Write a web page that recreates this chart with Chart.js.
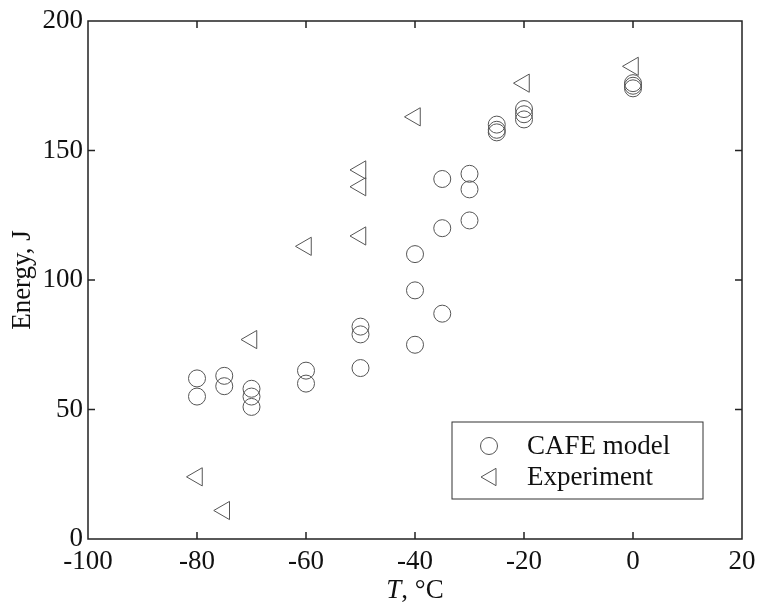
<!DOCTYPE html>
<html>
<head>
<meta charset="utf-8">
<script src="https://cdn.jsdelivr.net/npm/chart.js@4"></script>
<style>
  html, body { margin: 0; padding: 0; background: #fff; }
  #wrap { width: 759px; height: 614px; }
</style>
</head>
<body>
<div id="wrap"><canvas id="chart"></canvas></div>
<script>
// CAFE model (circles)
const cafeT = [-80, -80, -75, -75, -70, -70, -70, -60, -60, -50, -50, -50,
  -40, -40, -40, -35, -35, -35, -30, -30, -30, -25, -25, -25, -20, -20, -20, 0, 0, 0];
const cafeE = [62, 55, 63, 59, 58, 55, 51, 65, 60, 82, 79, 66,
  110, 96, 75, 139, 120, 87, 141, 135, 123, 160, 158, 157, 166, 164, 162, 176, 175, 174];

// Experiment (left triangles)
const expT = [-80, -75, -70, -60, -50, -50, -50, -40, -20, 0];
const expE = [24, 11, 77, 113, 142.5, 136, 117, 163, 176, 182.5];

const xMin = -100, xMax = 20, xStep = 20;
const yMin = 0, yMax = 200, yStep = 50;

const serif = "'Liberation Serif', 'DejaVu Serif', serif";
const markColor = "#555";
const fontSize = 27;

const toPts = (xs, ys) => xs.map((x, i) => ({ x: x, y: ys[i] }));

// frame + inward ticks on all four sides
const framePlugin = {
  id: "frame",
  afterDraw(chart) {
    const { ctx, chartArea: a, scales } = chart;
    const tl = 7;
    ctx.save();
    ctx.strokeStyle = "#222";
    ctx.lineWidth = 1.5;
    ctx.strokeRect(a.left, a.top, a.right - a.left, a.bottom - a.top);
    ctx.beginPath();
    scales.x.ticks.forEach(t => {
      const px = scales.x.getPixelForValue(t.value);
      if (px <= a.left + 1 || px >= a.right - 1) return;
      ctx.moveTo(px, a.bottom); ctx.lineTo(px, a.bottom - tl);
      ctx.moveTo(px, a.top); ctx.lineTo(px, a.top + tl);
    });
    scales.y.ticks.forEach(t => {
      const py = scales.y.getPixelForValue(t.value);
      if (py <= a.top + 1 || py >= a.bottom - 1) return;
      ctx.moveTo(a.left, py); ctx.lineTo(a.left + tl, py);
      ctx.moveTo(a.right, py); ctx.lineTo(a.right - tl, py);
    });
    ctx.stroke();
    ctx.restore();
  }
};

// legend box inside the plot, bottom right
const legendPlugin = {
  id: "boxLegend",
  afterDraw(chart) {
    const { ctx, chartArea: a } = chart;
    const w = 251, h = 77;
    const x0 = a.right - 39 - w, y0 = a.bottom - 40 - h;
    ctx.save();
    ctx.fillStyle = "#fff";
    ctx.fillRect(x0, y0, w, h);
    ctx.strokeStyle = "#333";
    ctx.lineWidth = 1;
    ctx.strokeRect(x0, y0, w, h);

    const sx = x0 + 37;
    const rows = [y0 + 24, y0 + 55];
    ctx.strokeStyle = markColor;
    // circle
    ctx.beginPath();
    ctx.arc(sx, rows[0], 8.5, 0, Math.PI * 2);
    ctx.stroke();
    // left triangle
    const r = 10;
    ctx.beginPath();
    ctx.moveTo(sx - r + 2, rows[1]);
    ctx.lineTo(sx + r / 2 + 2, rows[1] - r * Math.sqrt(3) / 2);
    ctx.lineTo(sx + r / 2 + 2, rows[1] + r * Math.sqrt(3) / 2);
    ctx.closePath();
    ctx.stroke();

    ctx.fillStyle = "#111";
    ctx.font = fontSize + "px " + serif;
    ctx.textBaseline = "middle";
    ctx.textAlign = "left";
    chart.data.datasets.forEach((ds, i) => {
      ctx.fillText(ds.label, x0 + 75, rows[i] + 1);
    });
    ctx.restore();
  }
};

// x title with italic T
const xTitlePlugin = {
  id: "xTitle",
  afterDraw(chart) {
    const { ctx, chartArea: a } = chart;
    const cx = (a.left + a.right) / 2;
    const y = a.bottom + 52;
    ctx.save();
    ctx.fillStyle = "#111";
    ctx.textBaseline = "middle";
    ctx.textAlign = "left";
    ctx.font = "italic " + fontSize + "px " + serif;
    const t1 = "T";
    const w1 = ctx.measureText(t1).width;
    ctx.font = fontSize + "px " + serif;
    const t2 = ", °C";
    const w2 = ctx.measureText(t2).width;
    const x = cx - (w1 + w2) / 2;
    ctx.font = "italic " + fontSize + "px " + serif;
    ctx.fillText(t1, x, y);
    ctx.font = fontSize + "px " + serif;
    ctx.fillText(t2, x + w1, y);
    ctx.restore();
  }
};

new Chart(document.getElementById("chart"), {
  type: "scatter",
  data: {
    datasets: [{
      label: "CAFE model",
      data: toPts(cafeT, cafeE),
      pointStyle: "circle",
      pointRadius: 8.5,
      pointBorderWidth: 1,
      borderColor: markColor,
      backgroundColor: "rgba(0,0,0,0)"
    }, {
      label: "Experiment",
      data: toPts(expT, expE),
      pointStyle: "triangle",
      pointRotation: -90,
      pointRadius: 10.5,
      pointBorderWidth: 1,
      borderColor: markColor,
      backgroundColor: "rgba(0,0,0,0)"
    }]
  },
  options: {
    responsive: true,
    maintainAspectRatio: false,
    animation: false,
    devicePixelRatio: 1,
    layout: { padding: { top: 21, right: 17, left: 0, bottom: 0 } },
    plugins: {
      legend: { display: false },
      tooltip: { enabled: false }
    },
    scales: {
      x: {
        type: "linear",
        min: xMin, max: xMax,
        grid: { display: false, drawTicks: false },
        border: { display: false },
        ticks: { stepSize: xStep, padding: 7, color: "#111", font: { family: serif, size: fontSize } },
        afterFit(s) { s.height = 75; s.paddingLeft = 0; s.paddingRight = 0; }
      },
      y: {
        min: yMin, max: yMax,
        grid: { display: false, drawTicks: false },
        border: { display: false },
        ticks: { stepSize: yStep, padding: 5, color: "#111", font: { family: serif, size: fontSize } },
        title: { display: true, text: "Energy, J", color: "#111", padding: { top: 7, bottom: 0 }, font: { family: serif, size: fontSize } },
        afterFit(s) { s.width = 88; s.paddingTop = 0; s.paddingBottom = 0; }
      }
    }
  },
  plugins: [framePlugin, legendPlugin, xTitlePlugin]
});
</script>
</body>
</html>
